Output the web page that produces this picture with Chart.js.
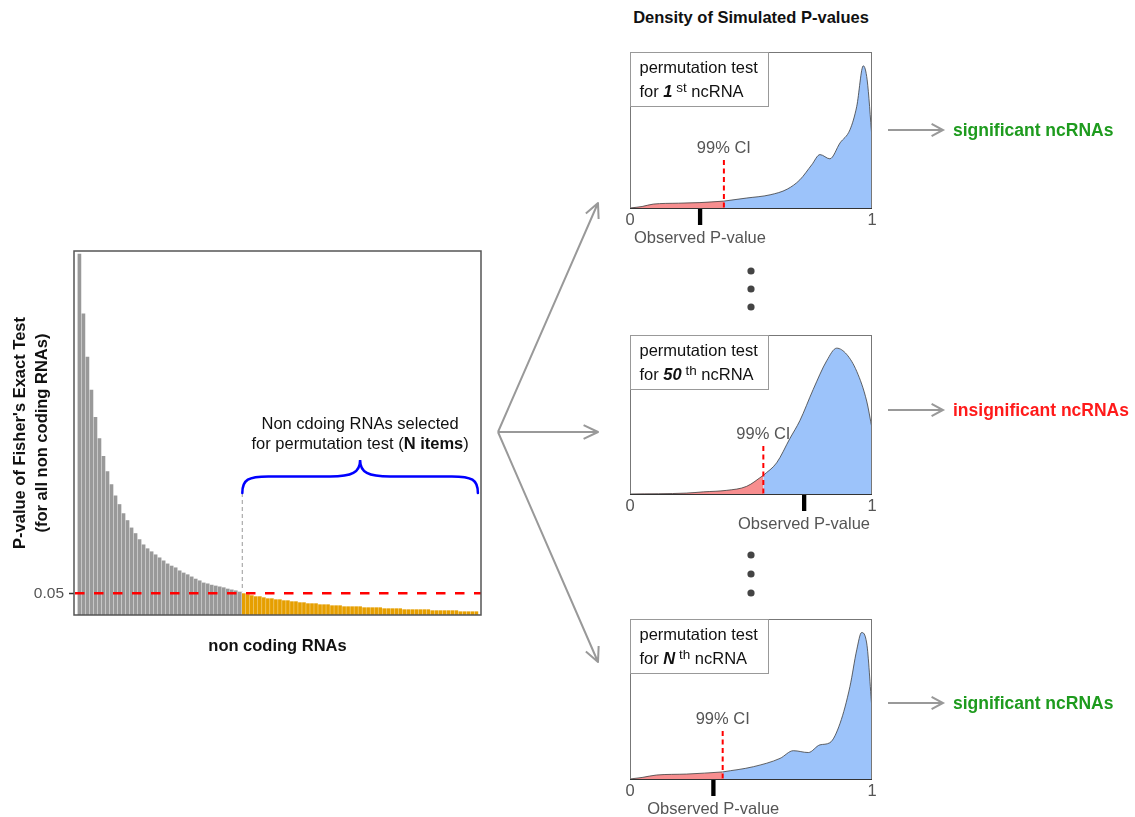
<!DOCTYPE html>
<html>
<head>
<meta charset="utf-8">
<title>Permutation test of non coding RNAs</title>
<script src="https://cdn.jsdelivr.net/npm/chart.js@4.4.1/dist/chart.umd.min.js"></script>
<style>
  html, body { margin: 0; padding: 0; background: #fff; }
  body { position: relative; width: 1135px; height: 817px; overflow: hidden;
         font-family: "Liberation Sans", Arial, Helvetica, sans-serif; }
  canvas { position: absolute; display: block; }
  #fan { position: absolute; left: 0; top: 0; }
  #densityTitle { position: absolute; left: 600px; width: 302px; top: 8px; text-align: center;
                  font-weight: bold; font-size: 16.5px; color: #111; }
</style>
</head>
<body>
<svg id="fan" width="1135" height="817"></svg>
<div id="densityTitle">Density of Simulated P-values</div>
<canvas id="pvalBars" width="495" height="430" style="left:0;top:230px"></canvas>
<script>
// ---- Fisher's exact test p-values for all ncRNAs, sorted decreasing ----
const pValues = [
  0.833, 0.695, 0.595, 0.519, 0.456, 0.407, 0.366, 0.331, 0.301, 0.275,
  0.255, 0.234, 0.218, 0.201, 0.188, 0.174, 0.162, 0.153, 0.146, 0.139,
  0.132, 0.125, 0.118, 0.113, 0.109, 0.102, 0.097, 0.093, 0.088, 0.083,
  0.079, 0.074, 0.072, 0.069, 0.067, 0.065, 0.063, 0.060, 0.058, 0.056,
  0.053,
  0.0493, 0.0470, 0.0447, 0.0424, 0.0424, 0.0400, 0.0377, 0.0377, 0.0354, 0.0354,
  0.0331, 0.0331, 0.0308, 0.0308, 0.0285, 0.0285, 0.0262, 0.0262, 0.0262, 0.0238,
  0.0238, 0.0238, 0.0215, 0.0215, 0.0215, 0.0192, 0.0192, 0.0192, 0.0192, 0.0192,
  0.0169, 0.0169, 0.0169, 0.0169, 0.0169, 0.0146, 0.0146, 0.0146, 0.0146, 0.0146,
  0.0123, 0.0123, 0.0123, 0.0123, 0.0123, 0.0123, 0.0123, 0.0100, 0.0100, 0.0100,
  0.0100, 0.0100, 0.0100, 0.0100, 0.0076, 0.0076, 0.0076, 0.0076, 0.0076
];
const rnaRank = pValues.map((_, i) => i + 1);
const threshold = 0.05;
const yTickValues = [threshold];

// ---- simulated p-value densities (one permutation test per ncRNA) ----
const p1Grid    = [0, 0.05, 0.096, 0.2, 0.289, 0.388, 0.48, 0.579, 0.65, 0.702, 0.751, 0.785, 0.826, 0.868, 0.909, 0.937, 0.964, 0.98, 1];
const p1Density = [0, 0.05, 0.13, 0.16, 0.18, 0.23, 0.33, 0.44, 0.63, 0.94, 1.44, 1.78, 1.64, 2.17, 2.61, 3.39, 4.74, 4.27, 2.33];
const p2Grid    = [0, 0.234, 0.303, 0.4, 0.482, 0.551, 0.606, 0.661, 0.702, 0.757, 0.813, 0.854, 0.895, 0.937, 0.978, 1];
const p2Density = [0, 0.03, 0.07, 0.12, 0.25, 0.61, 1.02, 1.82, 2.40, 3.42, 4.36, 4.77, 4.57, 4.01, 3.04, 2.15];
const p3Grid    = [0, 0.05, 0.11, 0.234, 0.383, 0.51, 0.62, 0.675, 0.737, 0.785, 0.826, 0.868, 0.909, 0.937, 0.957, 0.978, 1];
const p3Density = [0, 0.05, 0.13, 0.16, 0.23, 0.40, 0.67, 0.92, 0.86, 1.11, 1.18, 1.81, 3.01, 4.20, 4.76, 4.42, 2.25];

const ciCut     = [0.388, 0.551, 0.383];   // lower 99% CI bound of each simulation
const observedP = [0.289, 0.719, 0.344];   // observed p-value of each ncRNA
const testRank  = ['1', '50', 'N'];
const rankSuffix = ['st', 'th', 'th'];
const verdicts  = ['significant ncRNAs', 'insignificant ncRNAs', 'significant ncRNAs'];
const densityTicks = [0, 1];

// ---- layout of the three density panels (page pixels) ----
const panelLayout = {
  left: 600, width: 535, plotLeft: 30, plotWidth: 242,
  top: [52, 335, 619], bottom: [208, 494, 779], arrowY: [130, 410, 703],
  verdictColor: ['#1e9b1e', '#ff1a1a', '#1e9b1e']
};

const FAMILY = '"Liberation Sans", Arial, Helvetica, sans-serif';
Chart.defaults.font.family = FAMILY;
const f = (size, weight = 'normal', style = 'normal') => `${style} ${weight} ${size}px ${FAMILY}`;

// draw a row of differently styled text pieces
function drawRuns(ctx, runs, x, y, align) {
  let total = 0;
  runs.forEach(r => { ctx.font = r.font; r.w = ctx.measureText(r.text).width; total += r.w; });
  let cx = align === 'center' ? x - total / 2 : x;
  ctx.textAlign = 'left';
  ctx.textBaseline = 'alphabetic';
  runs.forEach(r => { ctx.font = r.font; ctx.fillText(r.text, cx, y + (r.dy || 0)); cx += r.w; });
}

function arrowHead(ctx, x1, y1, x2, y2, len, ang) {
  const a = Math.atan2(y2 - y1, x2 - x1);
  ctx.beginPath();
  ctx.moveTo(x1, y1); ctx.lineTo(x2, y2);
  ctx.moveTo(x2 - len * Math.cos(a - ang), y2 - len * Math.sin(a - ang));
  ctx.lineTo(x2, y2);
  ctx.lineTo(x2 - len * Math.cos(a + ang), y2 - len * Math.sin(a + ang));
  ctx.stroke();
}

// ---- bar chart decorations: 0.05 cut, selection brace, frame ----
const barDecor = {
  id: 'barDecor',
  afterDatasetsDraw(chart) {
    const { ctx, chartArea: a, scales: { x, y } } = chart;
    const yCut = y.getPixelForValue(threshold);
    const selected = rnaRank.filter((_, i) => pValues[i] < threshold);
    const half = 1.5;
    const xl = x.getPixelForValue(selected[0]) - half;
    const xr = x.getPixelForValue(selected[selected.length - 1]) + half;
    const xc = (xl + xr) / 2;
    const endY = a.top + 242, midY = a.top + 225.5, tipY = a.top + 209;

    ctx.save();
    // red 0.05 line
    ctx.strokeStyle = '#ff0000'; ctx.lineWidth = 2.5; ctx.setLineDash([9.5, 9.5]);
    ctx.beginPath(); ctx.moveTo(a.left + 1, yCut); ctx.lineTo(a.right, yCut); ctx.stroke();

    // grey guide from the brace down to the first selected bar
    ctx.strokeStyle = '#aaaaaa'; ctx.lineWidth = 1.2; ctx.setLineDash([4, 3]);
    ctx.beginPath(); ctx.moveTo(xl, endY); ctx.lineTo(xl, yCut - 2); ctx.stroke();

    // curly brace
    ctx.setLineDash([]);
    ctx.strokeStyle = '#0000ff'; ctx.lineWidth = 2.5; ctx.lineCap = 'round';
    ctx.beginPath();
    ctx.moveTo(xl, endY);
    ctx.bezierCurveTo(xl, midY + 3, xl + 6, midY, xl + 26, midY);
    ctx.lineTo(xc - 30, midY);
    ctx.bezierCurveTo(xc - 8, midY, xc, midY - 4, xc, tipY);
    ctx.bezierCurveTo(xc, midY - 4, xc + 8, midY, xc + 30, midY);
    ctx.lineTo(xr - 26, midY);
    ctx.bezierCurveTo(xr - 6, midY, xr, midY + 3, xr, endY);
    ctx.stroke();

    // label above the brace
    ctx.fillStyle = '#111';
    drawRuns(ctx, [{ text: 'Non cdoing RNAs selected', font: f(16.5) }], xc, a.top + 178, 'center');
    drawRuns(ctx, [
      { text: 'for permutation test (', font: f(16.5) },
      { text: 'N items', font: f(16.5, 'bold') },
      { text: ')', font: f(16.5) }
    ], xc, a.top + 198, 'center');
    ctx.restore();
  },
  afterDraw(chart) {
    const { ctx, chartArea: a } = chart;
    ctx.save();
    ctx.strokeStyle = '#555'; ctx.lineWidth = 1.5;
    ctx.strokeRect(a.left, a.top, a.right - a.left, a.bottom - a.top);
    ctx.restore();
  }
};

new Chart(document.getElementById('pvalBars'), {
  type: 'bar',
  data: {
    datasets: [{
      data: pValues.map((p, i) => ({ x: rnaRank[i], y: p })),
      backgroundColor: pValues.map(p => (p >= threshold ? '#999999' : '#E69F00')),
      barThickness: 3,
      borderWidth: 0
    }]
  },
  options: {
    responsive: false, animation: false, events: [],
    layout: { padding: { top: 21, right: 14, left: 0, bottom: 0 } },
    plugins: { legend: { display: false }, tooltip: { enabled: false } },
    scales: {
      x: {
        type: 'linear', min: -0.35, max: 101.15, offset: false,
        grid: { display: false }, border: { display: false }, ticks: { display: false },
        title: { display: true, text: 'non coding RNAs', color: '#111',
                 font: { size: 16.5, weight: 'bold' }, padding: { top: 0, bottom: 4 } },
        afterFit(s) { s.height = 45; }
      },
      y: {
        min: 0, max: 0.84,
        afterBuildTicks(s) { s.ticks = yTickValues.map(v => ({ value: v })); },
        ticks: { color: '#555', font: { size: 15.5 }, padding: 5, callback: v => v.toFixed(2) },
        grid: { drawOnChartArea: false, drawTicks: true, tickLength: 5, tickColor: '#333', tickWidth: 1.5 },
        border: { display: false },
        title: { display: true, color: '#111',
                 text: ["P-value of Fisher's Exact Test", '(for all non coding RNAs)'],
                 font: { size: 16.5, weight: 'bold', lineHeight: 1.333 }, padding: { top: 9, bottom: 0 } },
        afterFit(s) { s.width = 74; }
      }
    }
  },
  plugins: [barDecor]
});

// ---- density panel decorations ----
const densityDecor = {
  id: 'densityDecor',
  beforeDatasetsDraw(chart, args, o) {
    const { ctx, chartArea: a, scales: { x } } = chart;
    ctx.save();
    ctx.fillStyle = '#555';
    drawRuns(ctx, [{ text: '99% CI', font: f(16.5) }], x.getPixelForValue(o.ci), a.bottom - 55, 'center');
    ctx.restore();
  },
  afterDatasetsDraw(chart, args, o) {
    const { ctx, chartArea: a, scales: { x } } = chart;
    ctx.save();
    // CI cut
    const xc = x.getPixelForValue(o.ci);
    ctx.strokeStyle = '#ff0000'; ctx.lineWidth = 2; ctx.setLineDash([5, 3.5]);
    ctx.beginPath(); ctx.moveTo(xc, a.bottom - 48); ctx.lineTo(xc, a.bottom); ctx.stroke();
    ctx.setLineDash([]);

    // frame
    ctx.strokeStyle = '#777'; ctx.lineWidth = 1;
    ctx.strokeRect(a.left + 0.5, a.top + 0.5, a.right - a.left - 1, a.bottom - a.top);
    ctx.strokeStyle = '#333';
    ctx.beginPath(); ctx.moveTo(a.left, a.bottom + 0.5); ctx.lineTo(a.right, a.bottom + 0.5); ctx.stroke();

    // legend box
    ctx.fillStyle = '#fff'; ctx.strokeStyle = '#999';
    ctx.fillRect(a.left + 0.5, a.top + 0.5, 138, 54);
    ctx.strokeRect(a.left + 0.5, a.top + 0.5, 138, 54);
    ctx.fillStyle = '#111';
    drawRuns(ctx, [{ text: 'permutation test', font: f(16.5) }], a.left + 9.5, a.top + 21);
    drawRuns(ctx, [
      { text: 'for ', font: f(16.5) },
      { text: o.rank, font: f(16.5, 'bold', 'italic') },
      { text: ' ' + o.suffix, font: f(13.5), dy: -5 },
      { text: ' ncRNA', font: f(16.5) }
    ], a.left + 9.5, a.top + 45);

    // observed p-value
    const xo = x.getPixelForValue(o.observed);
    ctx.fillStyle = '#000';
    ctx.fillRect(xo - 2, a.bottom + 1, 4.3, 16);
    ctx.fillStyle = '#555';
    drawRuns(ctx, [{ text: 'Observed P-value', font: f(16.5) }], xo, a.bottom + 35, 'center');

    // verdict arrow
    const ay = o.arrowY;
    ctx.strokeStyle = '#999'; ctx.lineWidth = 2;
    arrowHead(ctx, a.right + 16, ay, a.right + 71, ay, 13, 0.5);
    ctx.fillStyle = o.color;
    drawRuns(ctx, [{ text: o.verdict, font: f(17.5, 'bold') }], a.right + 81, ay + 6);
    ctx.restore();
  }
};

const panelGrids = [p1Grid, p2Grid, p3Grid];
const panelDensities = [p1Density, p2Density, p3Density];

panelGrids.forEach((grid, k) => {
  const dens = panelDensities[k];
  const cut = grid.indexOf(ciCut[k]);
  const pts = grid.map((g, i) => ({ x: g, y: dens[i] }));
  const padTop = 12, axisH = 40;
  const plotH = panelLayout.bottom[k] - panelLayout.top[k];
  const canvas = document.createElement('canvas');
  canvas.width = panelLayout.width;
  canvas.height = padTop + plotH + axisH;
  canvas.style.left = panelLayout.left + 'px';
  canvas.style.top = (panelLayout.top[k] - padTop) + 'px';
  document.body.appendChild(canvas);

  const line = { borderColor: '#3d3d3d', borderWidth: 0.8, pointRadius: 0, fill: 'origin',
                 cubicInterpolationMode: 'monotone' };
  new Chart(canvas, {
    type: 'line',
    data: {
      datasets: [
        Object.assign({ data: pts.slice(0, cut + 1), backgroundColor: '#f78e8f' }, line),
        Object.assign({ data: pts.slice(cut), backgroundColor: '#9cc3fa' }, line)
      ]
    },
    options: {
      responsive: false, animation: false, events: [],
      layout: { padding: { left: panelLayout.plotLeft, top: padTop, bottom: 0,
                           right: panelLayout.width - panelLayout.plotLeft - panelLayout.plotWidth } },
      plugins: {
        legend: { display: false }, tooltip: { enabled: false },
        densityDecor: {
          ci: ciCut[k], observed: observedP[k], rank: testRank[k], suffix: rankSuffix[k],
          verdict: verdicts[k], color: panelLayout.verdictColor[k],
          arrowY: panelLayout.arrowY[k] - panelLayout.top[k] + padTop
        }
      },
      scales: {
        x: {
          type: 'linear', min: 0, max: 1, offset: false,
          afterBuildTicks(s) { s.ticks = densityTicks.map(v => ({ value: v })); },
          ticks: { color: '#555', font: { size: 16.5 }, padding: 3, maxRotation: 0, callback: v => String(v) },
          grid: { display: true, drawOnChartArea: false, drawTicks: false, tickLength: 0 },
          border: { display: false },
          afterFit(s) { s.height = axisH; }
        },
        y: { display: false, min: 0, max: 5.2 }
      }
    },
    plugins: [densityDecor]
  });
});

// ---- fan of arrows and ellipsis dots ----
(function () {
  const svg = document.getElementById('fan');
  const NS = 'http://www.w3.org/2000/svg';
  const origin = [498, 432];
  const tips = [[598, 203], [598, 432], [598, 662]];
  tips.forEach(([tx, ty]) => {
    const a = Math.atan2(ty - origin[1], tx - origin[0]);
    const len = 16, ang = 0.45;
    const p = document.createElementNS(NS, 'path');
    p.setAttribute('d',
      `M${origin[0]},${origin[1]}L${tx},${ty}` +
      `M${tx - len * Math.cos(a - ang)},${ty - len * Math.sin(a - ang)}L${tx},${ty}` +
      `L${tx - len * Math.cos(a + ang)},${ty - len * Math.sin(a + ang)}`);
    p.setAttribute('stroke', '#999'); p.setAttribute('stroke-width', '2');
    p.setAttribute('fill', 'none'); p.setAttribute('stroke-linejoin', 'round');
    svg.appendChild(p);
  });
  [271, 289, 307, 555, 574, 593].forEach(cy => {
    const c = document.createElementNS(NS, 'circle');
    c.setAttribute('cx', 751); c.setAttribute('cy', cy); c.setAttribute('r', 3.6);
    c.setAttribute('fill', '#444');
    svg.appendChild(c);
  });
})();
</script>
</body>
</html>
